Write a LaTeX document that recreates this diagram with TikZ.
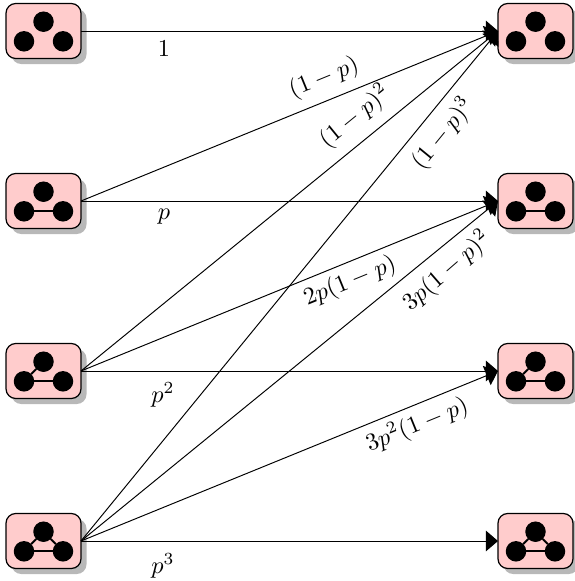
\documentclass[tikz,border=0pt]{standalone}
\usetikzlibrary{shadows,arrows.meta}
\newlength{\pxu}\setlength{\pxu}{0.412pt}
\tikzset{
  x=\pxu,y=-\pxu,
  statebox/.style={draw=black,line width=0.5pt,fill=red!20,rounded corners=4pt,minimum width=75\pxu,minimum height=55\pxu,inner sep=0pt,outer sep=0pt,
    drop shadow={shadow xshift=5.5\pxu,shadow yshift=-5.5\pxu,fill=black,opacity=0.28}},
  vertex/.style={circle,fill=black,draw=none,minimum size=20.5\pxu,inner sep=0pt,outer sep=0pt},
  bond/.style={line width=0.8pt},
  flow/.style={line width=0.4pt,-{Triangle[length=5pt,width=8.5pt]}},
  lab/.style={inner sep=0pt,outer sep=0pt}
}
% #1 name, #2 x, #3 y
\newcommand{\stategraph}[3]{%
  \node[statebox] (#1) at (#2,#3) {};
  \node[vertex] (#1t) at ([xshift=0pt,yshift=9.3\pxu]#2,#3) {};
  \node[vertex] (#1a) at ([xshift=-19.5\pxu,yshift=-10.3\pxu]#2,#3) {};
  \node[vertex] (#1b) at ([xshift=19.5\pxu,yshift=-10.3\pxu]#2,#3) {};
}
\begin{document}
\begin{tikzpicture}
\useasboundingbox (0,0) rectangle (574,581);
\foreach \s/\yy in {1/31,2/201,3/371,4/541}{
  \stategraph{l\s}{43.5}{\yy}
  \stategraph{r\s}{535.5}{\yy}
}
\foreach \s in {l,r}{
  \draw[bond] (\s2a) -- (\s2b);
  \draw[bond] (\s3a) -- (\s3b);
  \draw[bond] (\s3a) -- (\s3t);
  \draw[bond] (\s4a) -- (\s4b);
  \draw[bond] (\s4a) -- (\s4t);
  \draw[bond] (\s4b) -- (\s4t);
}
\draw[flow] (l1.east) -- (r1.west);
\draw[flow] (l2.east) -- (r2.west);
\draw[flow] (l3.east) -- (r3.west);
\draw[flow] (l4.east) -- (r4.west);
\draw[flow] (l2.east) -- (r1.west);
\draw[flow] (l3.east) -- (r1.west);
\draw[flow] (l4.east) -- (r1.west);
\draw[flow] (l3.east) -- (r2.west);
\draw[flow] (l4.east) -- (r2.west);
\draw[flow] (l4.east) -- (r3.west);
\node[lab] (e1) at (164,49) {$1$};
\node[lab] (e2) at (164,217) {$p$};
\node[lab] (e3) at (163,395) {$p^2$};
\node[lab] (e4) at (163,566) {$p^3$};
\node[lab,rotate=22.2] (e5) at (324,78) {$(1-p)$};
\node[lab,rotate=39.2] (e6) at (355,117) {$(1-p)^2$};
\node[lab,rotate=50.7] (e7) at (443,134) {$(1-p)^3$};
\node[lab,rotate=22.2] (e8) at (350,282) {$2p(1-p)$};
\node[lab,rotate=41] (e9) at (447,271) {$3p(1-p)^2$};
\node[lab,rotate=22.2] (e10) at (417,425) {$3p^2(1-p)$};
\end{tikzpicture}
\end{document}
